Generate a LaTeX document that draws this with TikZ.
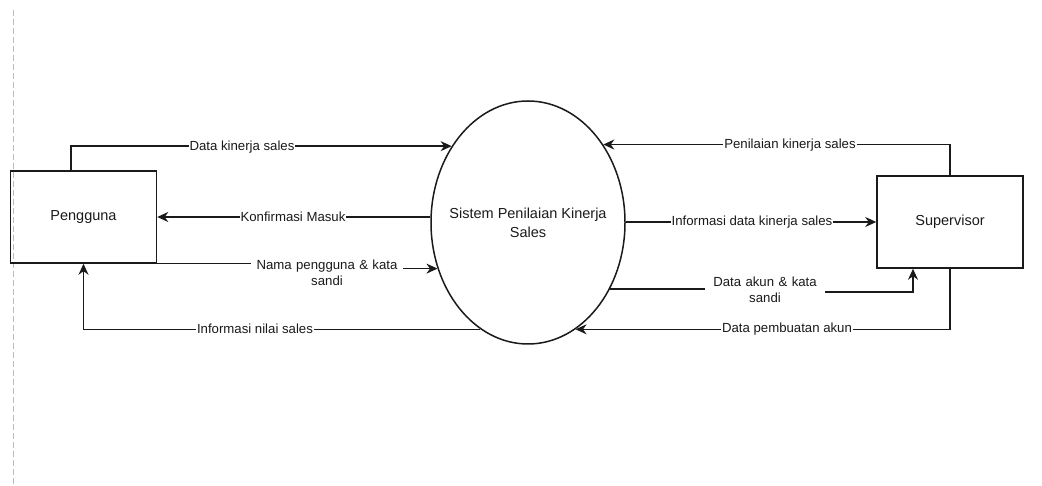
\documentclass[tikz,border=0pt]{standalone}
\usepackage{fontspec}
\setmainfont{Liberation Sans}
\usetikzlibrary{arrows.meta,shapes.geometric,calc}
\definecolor{ink}{HTML}{1A1A1A}
\definecolor{guide}{HTML}{BBBBBB}
\begin{document}
\begin{tikzpicture}[x=1pt,y=-1pt,
  entity/.style={draw=ink,line width=1.5pt,minimum width=146pt,minimum height=92pt,
    inner sep=0pt,text=ink,font=\fontsize{14.5}{17}\selectfont},
  process/.style={draw=ink,line width=1.5pt,ellipse,minimum width=194pt,
    minimum height=243pt,inner sep=0pt},
  flow/.style={draw=ink,line width=1.5pt,
    -{Stealth[length=11pt,width=10pt,inset=3.5pt]}},
  flowlabel/.style={fill=white,inner sep=1pt,text=ink,align=center,
    font=\fontsize{13.2}{16}\selectfont}]
\useasboundingbox (0,0) rectangle (1042,486);

% page guide on the left
\draw[guide,line width=0.8pt,dash pattern=on 6pt off 3pt] (13,10) -- (13,486);

% entities and the process
\node[entity] (peng) at (83.5,217) {Pengguna};
\node[entity] (sup) at (950,222) {Supervisor};
\node[process] (sys) at (528,222.5) {};
\node[align=center,text=ink,font=\fontsize{14.5}{19}\selectfont] (systext) at (sys)
  {Sistem Penilaian Kinerja\\Sales};

% flows between Pengguna and the system
\draw[flow] ([xshift=-12.5pt]peng.north) |- (sys.135);
\node[flowlabel] (l1) at (242,147) {Data kinerja sales};

\draw[flow] (peng.east -| sys.west) -- (peng.east);
\node[flowlabel] (l2) at (293,217) {Konfirmasi Masuk};

\draw[flow] (peng.south east) -- ++(170,0) |- (sys.207);
\node[flowlabel,text width=150pt] (l3) at (327,273) {Nama pengguna \& kata\\sandi};

\draw[flow] (sys.246) -| (peng.south);
\node[flowlabel] (l4) at (255,329) {Informasi nilai sales};

% flows between Supervisor and the system
\draw[flow] (sup.north) |- (sys.46);
\node[flowlabel] (l5) at (790,145) {Penilaian kinerja sales};

\draw[flow] (sup.west -| sys.east) -- (sup.west);
\node[flowlabel] (l6) at (752,222) {Informasi data kinerja sales};

\draw[flow] (sys.321) -- ++(156,0) -- ++(0,3) -| ([xshift=-37pt]sup.south);
\node[flowlabel,text width=118pt] (l7) at (765,290) {Data akun \& kata\\sandi};

\draw[flow] (sup.south) |- (sys.294);
\node[flowlabel] (l8) at (787,329) {Data pembuatan akun};
\end{tikzpicture}
\end{document}
